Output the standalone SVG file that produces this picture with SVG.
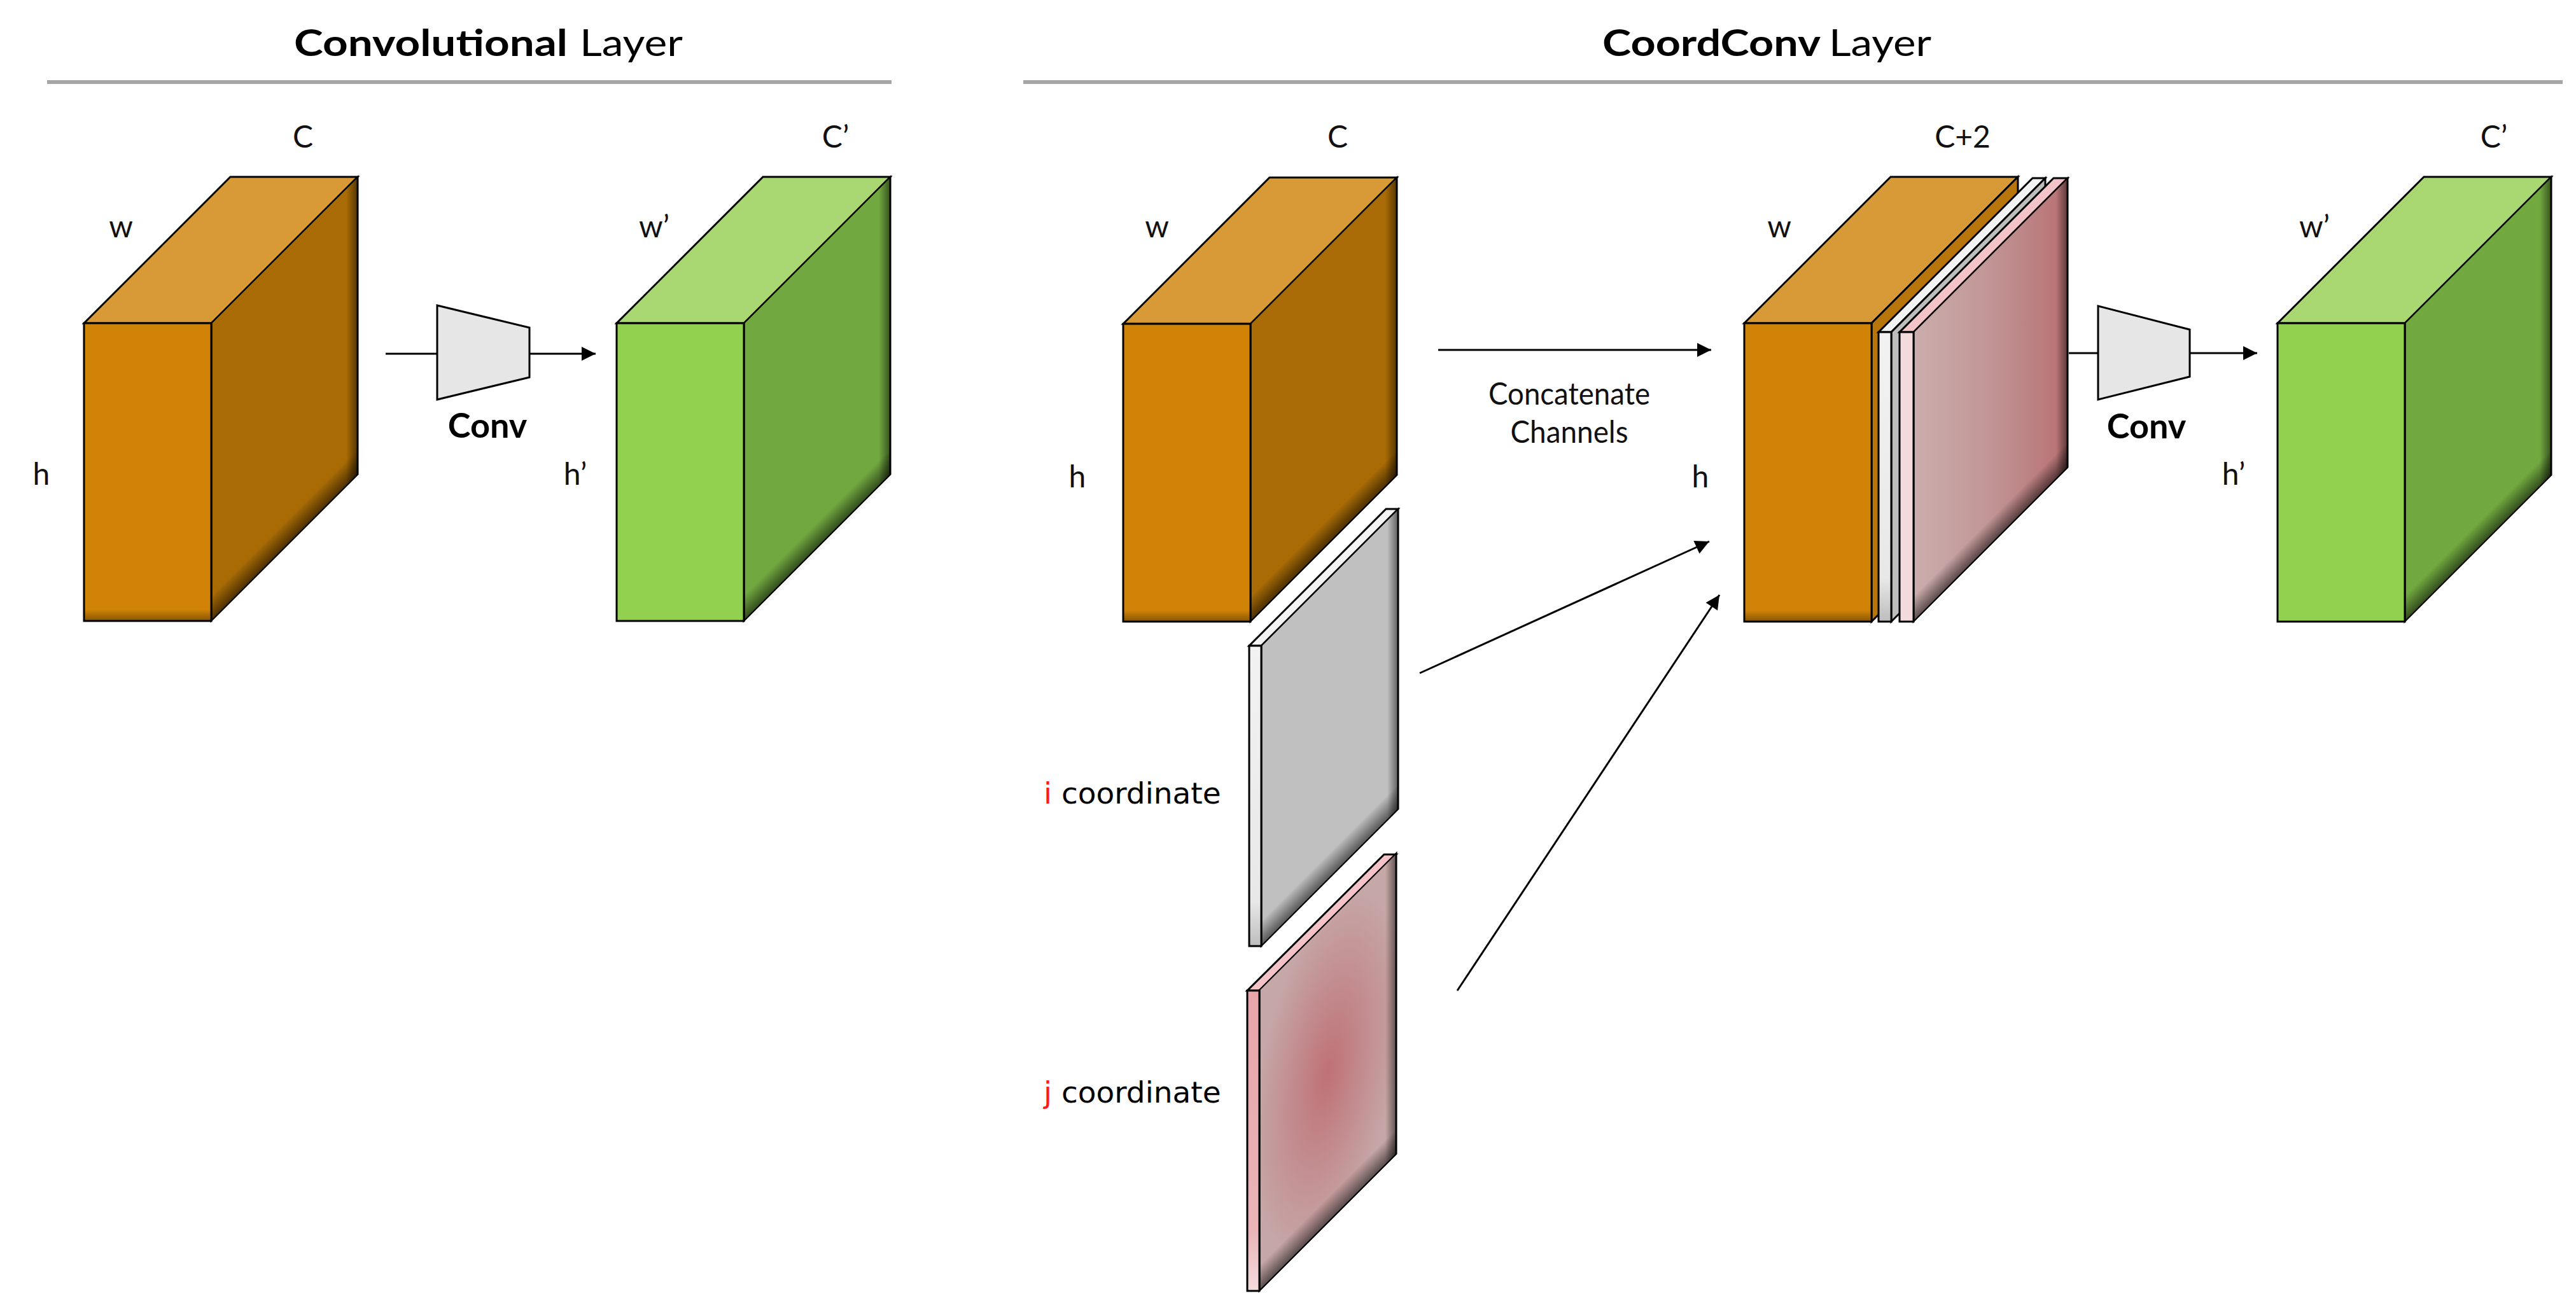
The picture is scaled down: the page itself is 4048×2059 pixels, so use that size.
<svg xmlns="http://www.w3.org/2000/svg" width="4048" height="2059" viewBox="0 0 4048 2059">
<style>
.edge{stroke:#000;stroke-width:3;stroke-linejoin:miter}
.lbl{font-family:Lato,"Liberation Sans",sans-serif;font-size:48px;fill:#111;text-anchor:middle}
.ttl{font-family:Lato,"Liberation Sans",sans-serif;font-size:58px;fill:#000}
.conv{font-family:Lato,"Liberation Sans",sans-serif;font-size:54px;font-weight:bold;fill:#000;text-anchor:middle}
.coord{font-family:"DejaVu Sans",Verdana,sans-serif;font-size:47px;fill:#000}
.red{fill:#ff1a1a}
.conn{stroke:#000;stroke-width:3;fill:none}
.rule{stroke:#a6a6a6;stroke-width:6}
.trap{fill:#e6e6e6;stroke:#000;stroke-width:3}
</style>
<defs>
<marker id="ah" viewBox="0 0 10 10" refX="10" refY="5" markerWidth="24" markerHeight="22" markerUnits="userSpaceOnUse" orient="auto"><path d="M0,0 L10,5 L0,10 z" fill="#000"/></marker>
<linearGradient id="shBot" x1="0" y1="0" x2="0" y2="1"><stop offset="0" stop-color="#000" stop-opacity="0"/><stop offset="1" stop-color="#000" stop-opacity="0.55"/></linearGradient>
<linearGradient id="shRight" x1="0" y1="0" x2="1" y2="0"><stop offset="0" stop-color="#000" stop-opacity="0"/><stop offset="1" stop-color="#000" stop-opacity="0.5"/></linearGradient>
<linearGradient id="shFront" x1="0" y1="0" x2="0" y2="1"><stop offset="0" stop-color="#000" stop-opacity="0"/><stop offset="1" stop-color="#000" stop-opacity="0.35"/></linearGradient>
<linearGradient id="pinkSide" x1="0" y1="0" x2="1" y2="0"><stop offset="0" stop-color="#cbadad"/><stop offset="0.5" stop-color="#c19595"/><stop offset="1" stop-color="#b87073"/></linearGradient>
<radialGradient id="pinkRad" cx="0.5" cy="0.5" r="0.55"><stop offset="0" stop-color="#bf7176"/><stop offset="1" stop-color="#c6a7a7"/></radialGradient>
<linearGradient id="pinkFront" x1="0" y1="0" x2="0" y2="1"><stop offset="0" stop-color="#e7a5aa"/><stop offset="0.8" stop-color="#eab4b8"/><stop offset="1" stop-color="#f3dcdd"/></linearGradient>
<linearGradient id="whiteFront" x1="0" y1="0" x2="0" y2="1"><stop offset="0" stop-color="#f2f2f2"/><stop offset="0.85" stop-color="#e8e8e8"/><stop offset="1" stop-color="#bdbdbd"/></linearGradient>
</defs>
<rect width="4048" height="2059" fill="#fff"/>

<g id="titles">
<text class="ttl" x="462" y="88" font-weight="bold" textLength="430" lengthAdjust="spacingAndGlyphs">Convolutional</text>
<text class="ttl" x="911" y="88" textLength="162" lengthAdjust="spacingAndGlyphs">Layer</text>
<line class="rule" x1="74" y1="129" x2="1401" y2="129"/>
<text class="ttl" x="2518" y="88" font-weight="bold" textLength="343" lengthAdjust="spacingAndGlyphs">CoordConv</text>
<text class="ttl" x="2874" y="88" textLength="161" lengthAdjust="spacingAndGlyphs">Layer</text>
<line class="rule" x1="1608" y1="129" x2="4027" y2="129"/>
</g>

<g id="connectors">
<line class="conn" x1="606" y1="556" x2="936" y2="556" marker-end="url(#ah)"/>
<line class="conn" x1="2260" y1="550" x2="2689" y2="550" marker-end="url(#ah)"/>
<line class="conn" x1="2231" y1="1058" x2="2686" y2="851" marker-end="url(#ah)"/>
<line class="conn" x1="2290" y1="1557" x2="2702" y2="935" marker-end="url(#ah)"/>
<line class="conn" x1="3251" y1="555" x2="3547" y2="555" marker-end="url(#ah)"/>
</g>

<!-- left input cube -->
<g id="conv-input" transform="translate(132,278)">
<polygon points="0,230 200,230 430,0 230,0" fill="#d89a36" class="edge"/>
<g transform="matrix(1,-1,0,1,200,698)">
<rect x="0" y="-468" width="230" height="468" fill="#a96b05"/>
<rect x="0" y="-40" width="230" height="40" fill="url(#shBot)"/>
<rect x="212" y="-468" width="18" height="468" fill="url(#shRight)"/>
<rect x="0" y="-468" width="230" height="468" fill="none" class="edge"/>
</g>
<rect x="0" y="230" width="200" height="468" fill="#d08306"/>
<rect x="0" y="680" width="200" height="18" fill="url(#shFront)"/>
<rect x="0" y="230" width="200" height="468" fill="none" class="edge"/>
</g>
<g id="conv-input-labels">
<text class="lbl" x="476" y="232">C</text>
<text class="lbl" x="190" y="373">w</text>
<text class="lbl" x="65" y="762">h</text>
</g>

<g id="conv-op-left">
<polygon class="trap" points="687,480 832,515 832,593 687,628"/>
<text class="conv" x="766" y="688">Conv</text>
</g>

<g id="conv-output" transform="translate(969,278)">
<polygon points="0,230 200,230 430,0 230,0" fill="#a9d873" class="edge"/>
<g transform="matrix(1,-1,0,1,200,698)">
<rect x="0" y="-468" width="230" height="468" fill="#71a840"/>
<rect x="0" y="-40" width="230" height="40" fill="url(#shBot)"/>
<rect x="212" y="-468" width="18" height="468" fill="url(#shRight)"/>
<rect x="0" y="-468" width="230" height="468" fill="none" class="edge"/>
</g>
<rect x="0" y="230" width="200" height="468" fill="#92d050"/>
<rect x="0" y="230" width="200" height="468" fill="none" class="edge"/>
</g>
<g id="conv-output-labels">
<text class="lbl" x="1313" y="232">C’</text>
<text class="lbl" x="1028" y="373">w’</text>
<text class="lbl" x="904" y="762">h’</text>
</g>

<!-- CoordConv input cube -->
<g id="coord-input" transform="translate(1765,279)">
<polygon points="0,230 200,230 430,0 230,0" fill="#d89a36" class="edge"/>
<g transform="matrix(1,-1,0,1,200,698)">
<rect x="0" y="-468" width="230" height="468" fill="#a96b05"/>
<rect x="0" y="-40" width="230" height="40" fill="url(#shBot)"/>
<rect x="212" y="-468" width="18" height="468" fill="url(#shRight)"/>
<rect x="0" y="-468" width="230" height="468" fill="none" class="edge"/>
</g>
<rect x="0" y="230" width="200" height="468" fill="#d08306"/>
<rect x="0" y="680" width="200" height="18" fill="url(#shFront)"/>
<rect x="0" y="230" width="200" height="468" fill="none" class="edge"/>
</g>
<g id="coord-input-labels">
<text class="lbl" x="2102" y="232">C</text>
<text class="lbl" x="1818" y="373">w</text>
<text class="lbl" x="1693" y="766">h</text>
</g>

<!-- i coordinate plane -->
<g id="i-plane">
<polygon points="1963,1015 1982,1015 2197,800 2178,800" fill="#f4f4f4" class="edge"/>
<g transform="matrix(1,-1,0,1,1982,1487)">
<rect x="0" y="-472" width="215" height="472" fill="#c0c0c0"/>
<rect x="0" y="-40" width="215" height="40" fill="url(#shBot)"/>
<rect x="198" y="-472" width="17" height="472" fill="url(#shRight)"/>
<rect x="0" y="-472" width="215" height="472" fill="none" class="edge"/>
</g>
<rect x="1963" y="1015" width="19" height="472" fill="url(#whiteFront)" class="edge"/>
<text class="coord" x="1640" y="1263"><tspan class="red">i</tspan> coordinate</text>
</g>

<!-- j coordinate plane -->
<g id="j-plane">
<polygon points="1960,1557 1979,1557 2194,1343 2175,1343" fill="#f3c3c7" class="edge"/>
<g transform="matrix(1,-1,0,1,1979,2029)">
<rect x="0" y="-473" width="215" height="473" fill="url(#pinkRad)"/>
<rect x="0" y="-40" width="215" height="40" fill="url(#shBot)"/>
<rect x="198" y="-473" width="17" height="473" fill="url(#shRight)"/>
<rect x="0" y="-473" width="215" height="473" fill="none" class="edge"/>
</g>
<rect x="1960" y="1557" width="19" height="472" fill="url(#pinkFront)" class="edge"/>
<text class="coord" x="1640" y="1733"><tspan class="red">j</tspan> coordinate</text>
</g>

<!-- concatenated block -->
<g id="concat-block">
<polygon points="2741,508 2941,508 3171,278 2971,278" fill="#d89a36" class="edge"/>
<polygon points="2941,508 3171,278 3171,747 2941,977" fill="#b8760a" class="edge"/>
<rect x="2741" y="508" width="200" height="469" fill="#d08306"/>
<rect x="2741" y="959" width="200" height="18" fill="url(#shFront)"/>
<rect x="2741" y="508" width="200" height="469" fill="none" class="edge"/>
<!-- slab i -->
<polygon points="2952,522 2972,522 3214,280 3194,280" fill="#f4f4f4" class="edge"/>
<polygon points="2972,522 3214,280 3214,735 2972,977" fill="#bdbdbd" class="edge"/>
<rect x="2952" y="522" width="20" height="455" fill="url(#whiteFront)" class="edge"/>
<!-- slab j -->
<polygon points="2985,522 3007,522 3249,280 3227,280" fill="#f3c3c7" class="edge"/>
<g transform="matrix(1,-1,0,1,3007,977)">
<rect x="0" y="-455" width="242" height="455" fill="url(#pinkSide)"/>
<rect x="0" y="-40" width="242" height="40" fill="url(#shBot)"/>
<rect x="224" y="-455" width="18" height="455" fill="url(#shRight)"/>
<rect x="0" y="-455" width="242" height="455" fill="none" class="edge"/>
</g>
<rect x="2985" y="522" width="22" height="455" fill="#f3dadc" class="edge"/>
</g>
<g id="concat-labels">
<text class="lbl" x="3084" y="232">C+2</text>
<text class="lbl" x="2796" y="373">w</text>
<text class="lbl" x="2672" y="766">h</text>
<text class="lbl" x="2466" y="636" font-size="44" textLength="254" lengthAdjust="spacingAndGlyphs">Concatenate</text>
<text class="lbl" x="2466" y="696" font-size="44" textLength="185" lengthAdjust="spacingAndGlyphs">Channels</text>
</g>

<g id="conv-op-right">
<polygon class="trap" points="3297,481 3441,518 3441,592 3297,628"/>
<text class="conv" x="3373" y="689">Conv</text>
</g>

<g id="coord-output" transform="translate(3579,278)">
<polygon points="0,230 200,230 430,0 230,0" fill="#a9d873" class="edge"/>
<g transform="matrix(1,-1,0,1,200,699)">
<rect x="0" y="-469" width="230" height="469" fill="#71a840"/>
<rect x="0" y="-40" width="230" height="40" fill="url(#shBot)"/>
<rect x="212" y="-469" width="18" height="469" fill="url(#shRight)"/>
<rect x="0" y="-469" width="230" height="469" fill="none" class="edge"/>
</g>
<rect x="0" y="230" width="200" height="469" fill="#92d050"/>
<rect x="0" y="230" width="200" height="469" fill="none" class="edge"/>
</g>
<g id="coord-output-labels">
<text class="lbl" x="3919" y="232">C’</text>
<text class="lbl" x="3637" y="373">w’</text>
<text class="lbl" x="3510" y="762">h’</text>
</g>
</svg>
